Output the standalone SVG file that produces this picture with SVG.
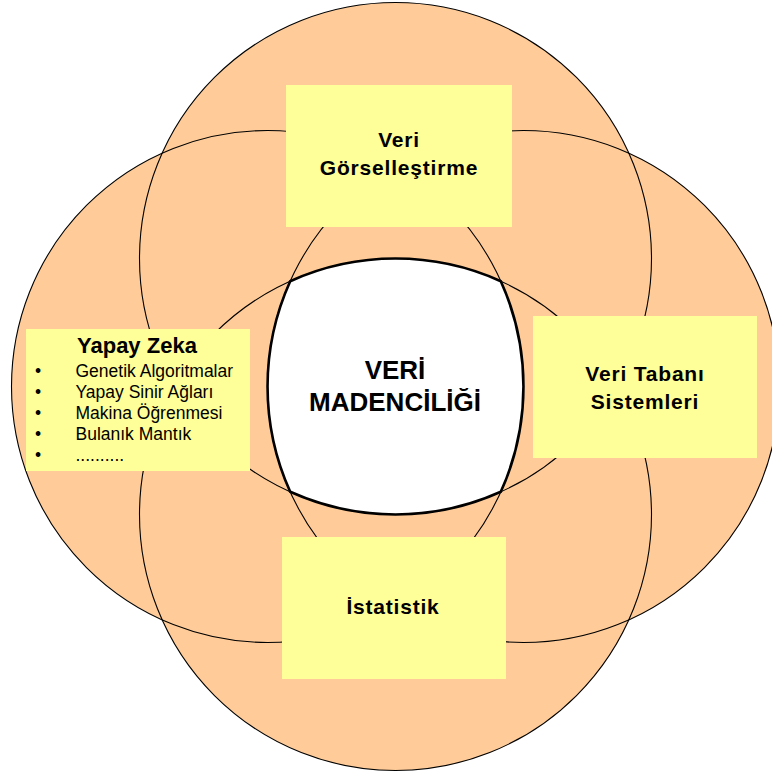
<svg xmlns="http://www.w3.org/2000/svg" width="772" height="778" viewBox="0 0 772 778">
<style>
.fill{fill:#FFCC99;stroke:none}
.ring{fill:none;stroke:#000;stroke-width:1.1}
.box{fill:#FFFF99;stroke:none}
.t{font-family:"Liberation Sans",Arial,sans-serif;fill:#000}
.title{font-size:21px;font-weight:bold;letter-spacing:0.8px;text-anchor:middle}
.center{font-size:26px;font-weight:bold;text-anchor:middle}
.item{font-size:17.5px}
</style>
<rect width="772" height="778" fill="#fff"/>
<g id="circles">
<circle class="fill" cx="395.5" cy="258.5" r="256"/>
<circle class="fill" cx="395.5" cy="514.5" r="256"/>
<circle class="fill" cx="267.5" cy="386.5" r="256"/>
<circle class="fill" cx="523.5" cy="386.5" r="256"/>
<circle class="ring" cx="395.5" cy="258.5" r="256"/>
<circle class="ring" cx="395.5" cy="514.5" r="256"/>
<circle class="ring" cx="267.5" cy="386.5" r="256"/>
<circle class="ring" cx="523.5" cy="386.5" r="256"/>
</g>
<g id="veri-madenciligi">
<path d="M290.2 281.2 A256 256 0 0 1 500.8 281.2 A256 256 0 0 1 500.8 491.8 A256 256 0 0 1 290.2 491.8 A256 256 0 0 1 290.2 281.2 Z" fill="#fff" stroke="#000" stroke-width="2.6"/>
<text class="t center" x="395" y="379">VERİ</text>
<text class="t center" x="395" y="411">MADENCİLİĞİ</text>
</g>
<g id="veri-gorsellestirme">
<rect class="box" x="286" y="85" width="226" height="142"/>
<text class="t title" x="399" y="147">Veri</text>
<text class="t title" x="399" y="175">Görselleştirme</text>
</g>
<g id="veri-tabani-sistemleri">
<rect class="box" x="533" y="316" width="224" height="142"/>
<text class="t title" x="645" y="381">Veri Tabanı</text>
<text class="t title" x="645" y="409">Sistemleri</text>
</g>
<g id="istatistik">
<rect class="box" x="282" y="537" width="224" height="142"/>
<text class="t title" x="393" y="614">İstatistik</text>
</g>
<g id="yapay-zeka">
<rect class="box" x="26" y="329" width="224" height="142"/>
<text class="t" x="77" y="353" font-size="22" font-weight="bold">Yapay Zeka</text>
<g class="t item">
<text x="38" y="377" text-anchor="middle">•</text><text x="75.5" y="377">Genetik Algoritmalar</text>
<text x="38" y="398" text-anchor="middle">•</text><text x="75.5" y="398">Yapay Sinir Ağları</text>
<text x="38" y="419" text-anchor="middle">•</text><text x="75.5" y="419">Makina Öğrenmesi</text>
<text x="38" y="440" text-anchor="middle">•</text><text x="75.5" y="440">Bulanık Mantık</text>
<text x="38" y="461" text-anchor="middle">•</text><text x="75.5" y="461">..........</text>
</g>
</g>
</svg>
